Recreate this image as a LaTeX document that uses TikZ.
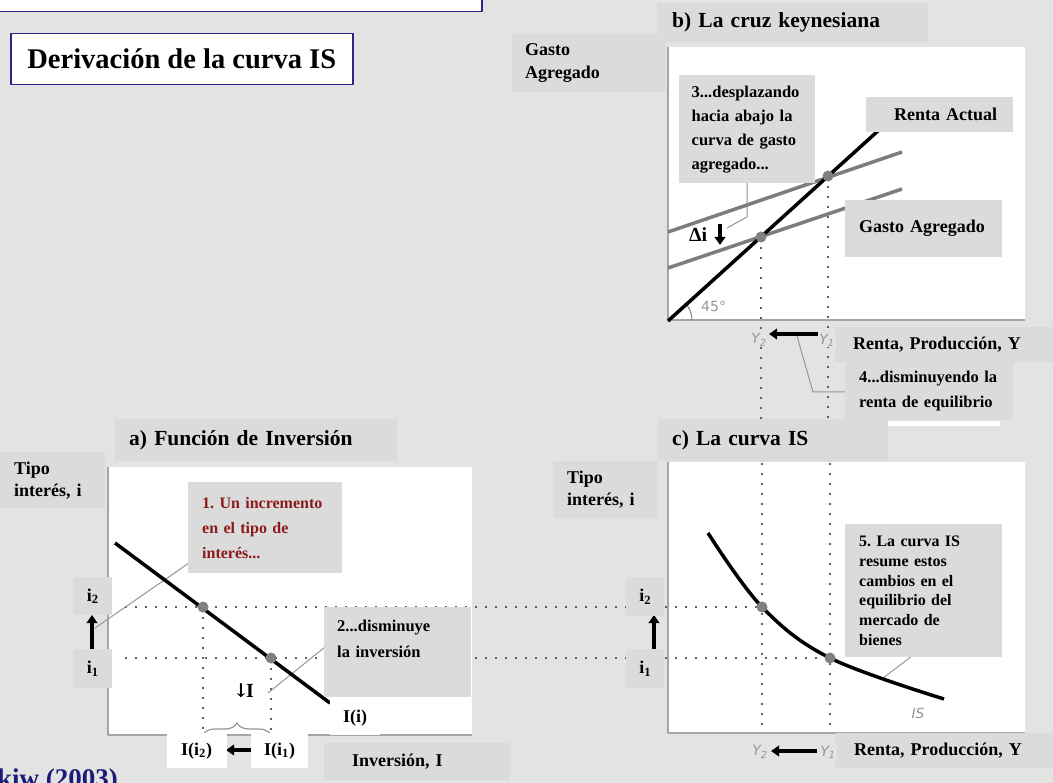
\documentclass[tikz,border=0pt]{standalone}
\usepackage{fontspec}
\setmainfont{Liberation Serif}
\newfontfamily\grsans{DejaVu Sans}
\newfontfamily\dvserif{DejaVu Serif}
\usetikzlibrary{arrows.meta,decorations.pathreplacing}
\setlength{\parindent}{0pt}
\hyphenpenalty=10000
\exhyphenpenalty=10000
\frenchspacing
\definecolor{bg}{RGB}{227,227,227}
\definecolor{boxgray}{RGB}{219,219,219}
\definecolor{navy}{RGB}{40,40,130}
\definecolor{navytxt}{RGB}{28,28,120}
\definecolor{darkred}{RGB}{140,26,26}
\definecolor{aegray}{RGB}{125,125,125}
\definecolor{axgray}{RGB}{165,165,165}
\definecolor{dotc}{RGB}{95,95,95}
\definecolor{pointc}{RGB}{128,128,128}
\definecolor{callc}{RGB}{150,150,150}
\definecolor{lblgray}{RGB}{150,150,150}
\begin{document}
\begin{tikzpicture}[x=1pt,y=-1pt,line join=round,
  lbox/.style={fill=boxgray, inner ysep=0pt, anchor=north west, align=left},
  wbox/.style={fill=white, inner ysep=0pt, anchor=north west, align=left},
  flab/.style={font=\bfseries\fontsize{18}{23}\selectfont},
  fnote/.style={font=\bfseries\fontsize{16.5}{24}\selectfont},
  fhead/.style={font=\bfseries\fontsize{21.5}{26}\selectfont},
  bigarr/.style={line width=3.5pt, -{Triangle[length=8pt,width=10.5pt]}},
  dotl/.style={dotc, line width=2.4pt, dash pattern=on 2.4pt off 7.6pt},
  ael/.style={aegray, line width=3.5pt},
  blk/.style={black, line width=3.5pt},
  axisl/.style={axgray, line width=2pt},
  call/.style={callc, line width=1pt},
  eqpt/.style={fill=pointc},
  ylab/.style={text=lblgray, font=\grsans\itshape\fontsize{14}{16}\selectfont, fill=bg, inner sep=1pt},
  plotbg/.style={fill=white}
]
\useasboundingbox (0,0) rectangle (1053,783);
\fill[bg] (0,0) rectangle (1053,783);

% ---------- white plot areas ----------
\fill[plotbg] (667,47) rectangle (1025,320);
\fill[plotbg] (108,467) rectangle (472,735);
\fill[plotbg] (668,462) rectangle (1025,733);
\fill[white] (888,421) rectangle (1000,426);

% axes
\draw[axisl] (668,47) -- (668,320) -- (1025,320);
\draw[axisl] (108,467) -- (108,735) -- (472,735);
\draw[axisl] (668,462) -- (668,733) -- (1025,733);

% key points
\coordinate (Eb2) at (761,237);
\coordinate (Eb1) at (828,176);
\coordinate (Ea2) at (203,607);
\coordinate (Ea1) at (271,658);
\coordinate (Ec2) at (762,607);
\coordinate (Ec1) at (830,658);

% ---------- dotted guide lines ----------
\draw[dotl] (Eb2) -- (761,420);
\draw[dotl] (Eb1) -- (828,420);
\draw[dotl] (762,463) -- (762,728);
\draw[dotl] (830,463) -- (830,728);
\draw[dotl] (125,607) -- (Ec2);
\draw[dotl] (125,658) -- (Ec1);
\draw[dotl] (Ea2) -- (203,733);
\draw[dotl] (Ea1) -- (271,733);

% ---------- callout lines ----------
\coordinate (c3a) at (747,183);
\coordinate (c3b) at (747,217);
\coordinate (c3c) at (727,228);
\draw[call] (c3a) -- (c3b) -- (c3c);
\coordinate (c4a) at (797,336);
\coordinate (c4b) at (813,392);
\coordinate (c4c) at (846,392);
\draw[call] (c4a) -- (c4b) -- (c4c);
\coordinate (c1a) at (189,563);
\coordinate (c1b) at (95,628);
\draw[call] (c1a) -- (c1b);
\coordinate (c2a) at (268,693);
\coordinate (c2b) at (325,647);
\draw[call] (c2a) -- (c2b);
\coordinate (c5a) at (912,656);
\coordinate (c5b) at (883,678);
\draw[call] (c5a) -- (c5b);

% ---------- curves ----------
% panel b
\draw[gray, line width=1pt] (692,320) arc[start angle=0, end angle=45, radius=24pt];
\draw[ael] (668,232) -- (902,152);
\draw[ael] (668,268) -- (902,189);
\draw[blk] (668,321) -- (879,130);
% panel a
\draw[blk] (115,543) -- (330,703);
% panel c
\draw[blk] plot[smooth, tension=0.6] coordinates {(708,533) (762,607) (830,658) (944,699)};

% equilibrium points
\foreach \p in {Eb2,Eb1,Ea2,Ea1,Ec2,Ec1} \fill[eqpt] (\p) circle[radius=5.5pt];

% brace
\draw[callc, line width=1.2pt, decorate, decoration={brace, amplitude=12pt}] (203,735) -- (271,735);

% ---------- thick arrows ----------
\coordinate (dA1) at (720,224);
\coordinate (dA2) at (720,245);
\draw[bigarr] (dA1) -- (dA2);
\coordinate (yb1) at (818,334);
\coordinate (yb2) at (769,334);
\draw[bigarr] (yb1) -- (yb2);
\coordinate (yc1) at (817,751);
\coordinate (yc2) at (771,751);
\draw[bigarr] (yc1) -- (yc2);
\coordinate (ua1) at (92,649);
\coordinate (ua2) at (92,615);
\draw[bigarr] (ua1) -- (ua2);
\coordinate (uc1) at (654,649);
\coordinate (uc2) at (654,615);
\draw[bigarr] (uc1) -- (uc2);
\coordinate (ia1) at (251,750);
\coordinate (ia2) at (226,750);
\draw[bigarr] (ia1) -- (ia2);

% ---------- header boxes ----------
\node[draw=navy, line width=1.5pt, fill=white, anchor=north west, minimum width=483pt, minimum height=31pt, inner sep=0pt] (topbox) at (-2,-20) {};
\node[draw=navy, line width=1.5pt, fill=white, anchor=north west, minimum width=342pt, minimum height=51pt, inner sep=0pt, align=center, font=\bfseries\fontsize{28.5}{34}\selectfont] (title) at (10,33) {Derivación de la curva IS};

\node[lbox, fhead, minimum width=271pt, minimum height=39pt, text width=241pt, inner xsep=15pt] (bttl) at (657,3) {\mbox{b) La cruz keynesiana}};
\node[lbox, fhead, minimum width=282pt, minimum height=42pt, text width=254pt, inner xsep=14pt] (attl) at (115,419) {\mbox{a) Función de Inversión}};
\node[lbox, fhead, minimum width=230pt, minimum height=42pt, text width=202pt, inner xsep=14pt] (cttl) at (658,419) {\mbox{c) La curva IS}};

% ---------- axis labels ----------
\node[lbox, flab, minimum width=154pt, minimum height=58pt, text width=128pt, inner xsep=13pt] (gastoY) at (512,34) {Gasto\\Agregado};
\node[lbox, flab, font=\bfseries\fontsize{18}{22}\selectfont, minimum width=105pt, minimum height=56pt, text width=77pt, inner xsep=14pt] (tipoA) at (0,452) {Tipo\\\mbox{interés, i}};
\node[lbox, flab, font=\bfseries\fontsize{18}{22}\selectfont, minimum width=105pt, minimum height=57pt, text width=77pt, inner xsep=14pt] (tipoC) at (553,461) {Tipo\\\mbox{interés, i}};
\node[lbox, flab, minimum width=218pt, minimum height=35pt, text width=182pt, inner xsep=18pt] (ejeYb) at (835,327) {\mbox{Renta, Producción, Y}};
\node[lbox, flab, minimum width=218pt, minimum height=35pt, text width=180pt, inner xsep=19pt] (ejeYc) at (835,733) {\mbox{Renta, Producción, Y}};
\node[lbox, flab, minimum width=186pt, minimum height=37pt, text width=130pt, inner xsep=28pt] (invI) at (324,743) {\mbox{Inversión, I}};

% ---------- curve labels ----------
\node[lbox, flab, minimum width=147pt, minimum height=35pt, text width=91pt, inner xsep=28pt] (renta) at (866,97) {\mbox{Renta Actual}};
\node[lbox, flab, minimum width=157pt, minimum height=57pt, text width=129pt, inner xsep=14pt] (gastoAE) at (845,200) {\mbox{Gasto Agregado}};
\node[wbox, flab, minimum width=50pt, minimum height=35pt, text width=24pt, inner xsep=13pt] (Ii) at (330,700) {\mbox{I(i)}};
\node[wbox, flab, minimum width=60pt, minimum height=35pt, text width=32pt, inner xsep=14pt] (Ii2) at (167,733) {\mbox{I(i\textsubscript{2})}};
\node[wbox, flab, minimum width=57pt, minimum height=35pt, text width=31pt, inner xsep=13pt] (Ii1) at (251,733) {\mbox{I(i\textsubscript{1})}};

% i labels
\node[lbox, flab, align=center, minimum width=39pt, minimum height=38pt, inner xsep=0pt] (i2a) at (73,577) {i\textsubscript{2}};
\node[lbox, flab, align=center, minimum width=39pt, minimum height=39pt, inner xsep=0pt] (i1a) at (73,649) {i\textsubscript{1}};
\node[lbox, flab, align=center, minimum width=38pt, minimum height=39pt, inner xsep=0pt] (i2c) at (626,577) {i\textsubscript{2}};
\node[lbox, flab, align=center, minimum width=38pt, minimum height=39pt, inner xsep=0pt] (i1c) at (626,649) {i\textsubscript{1}};

% ---------- notes ----------
\node[lbox, fnote, minimum width=136pt, minimum height=108pt, text width=111pt, inner xsep=12.5pt] (note3) at (679,75) {\mbox{3...desplazando}\\\mbox{hacia abajo la}\\\mbox{curva de gasto}\\\mbox{agregado...}};
\node[lbox, fnote, font=\bfseries\fontsize{16.5}{25}\selectfont, minimum width=168pt, minimum height=58pt, text width=140pt, inner xsep=14pt] (note4) at (845,362) {\mbox{4...disminuyendo la}\\\mbox{renta de equilibrio}};
\node[lbox, fnote, font=\bfseries\fontsize{16}{25}\selectfont, text=darkred, minimum width=154pt, minimum height=91pt, text width=126pt, inner xsep=14pt] (note1) at (188,482) {\mbox{1. Un incremento}\\\mbox{en el tipo de}\\\mbox{interés...}};
\node[lbox, fnote, font=\bfseries\fontsize{16.5}{26}\selectfont, minimum width=147pt, minimum height=90pt, text width=121pt, inner xsep=13pt] (note2) at (324,607) {\mbox{2...disminuye}\\\mbox{la inversión}\\\mbox{}};
\node[lbox, fnote, font=\bfseries\fontsize{16}{19.8}\selectfont, minimum width=157pt, minimum height=133pt, text width=129pt, inner xsep=14pt] (note5) at (845,524) {\mbox{5. La curva IS}\\\mbox{resume estos}\\\mbox{cambios en el}\\\mbox{equilibrio del}\\\mbox{mercado de}\\\mbox{bienes}};

% ---------- small labels ----------
\node[anchor=base west, inner sep=0pt, font=\bfseries\fontsize{20}{24}\selectfont] (di) at (689,242) {Δi};
\node[anchor=base west, inner sep=0pt, font=\bfseries\fontsize{20}{24}\selectfont] (dI) at (233,697) {{\dvserif\fontsize{19}{24}\selectfont ↓}\kern-3pt I};
\node[anchor=west, inner sep=0pt, text=lblgray, font=\grsans\fontsize{14}{16}\selectfont] (deg) at (701,306) {45°};
\node[inner sep=0pt, text=lblgray, font=\grsans\itshape\fontsize{14}{16}\selectfont] (islab) at (918,713) {IS};
\node[ylab] (Y2b) at (759,340) {Y\textsubscript{2}};
\node[ylab] (Y1b) at (827,340) {Y\textsubscript{1}};
\node[ylab] (Y2c) at (760,752) {Y\textsubscript{2}};
\node[ylab] (Y1c) at (828,752) {Y\textsubscript{1}};

\node[anchor=base east, inner sep=0pt, text=navytxt, font=\bfseries\fontsize{27}{30}\selectfont] (mankiw) at (118,787) {Mankiw (2003)};
\end{tikzpicture}
\end{document}
